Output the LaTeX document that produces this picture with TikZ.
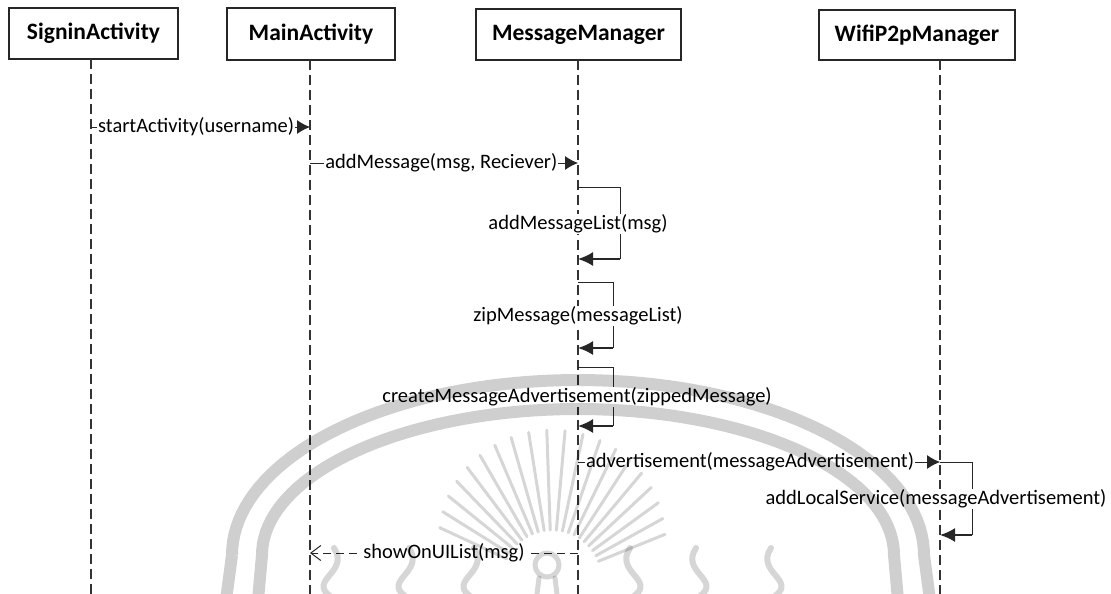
\documentclass[tikz,border=0pt]{standalone}
\usepackage{fontspec}
\setmainfont{Carlito}
\usetikzlibrary{arrows.meta}

\begin{document}
\begin{tikzpicture}[x=1pt, y=-1pt,
  head/.style={draw=black!85, line width=1.3pt, fill=white, inner sep=0pt,
               font=\fontsize{23.5}{28}\selectfont\bfseries},
  life/.style={draw=black!80, line width=1.1pt, dash pattern=on 10pt off 5pt},
  msg/.style={draw=black!85, line width=1pt, -{Latex[length=13pt,width=14pt]}},
  loopline/.style={draw=black!85, line width=1pt},
  ret/.style={draw=black!85, line width=1.8pt, -{Latex[length=15pt,width=14pt]}},
  reply/.style={draw=black!85, line width=1pt, dash pattern=on 8pt off 5pt,
                -{Straight Barb[length=10pt,width=15pt]}},
  lbl/.style={fill=white, inner sep=1pt, text=black,
              font=\fontsize{20.5}{24}\selectfont},
  wmband/.style={draw=black, opacity=0.19, line width=12pt},
  wmthin/.style={draw=black, opacity=0.16, line width=3pt, line cap=round}
]
\useasboundingbox (0,0) rectangle (1111,594);
\fill[white] (0,0) rectangle (1111,594);

% participants
\node[head, minimum width=169pt, minimum height=51pt] (sa) at (93.5,33.5) {SigninActivity};
\node[head, minimum width=168pt, minimum height=52pt] (ma) at (311,34) {MainActivity};
\node[head, minimum width=205pt, minimum height=51pt] (mm) at (578.5,34.5) {MessageManager};
\node[head, minimum width=196pt, minimum height=50pt] (wm) at (917,35) {WifiP2pManager};

% lifelines
\coordinate (sa-t) at (91,59);   \coordinate (sa-b) at (91,594);
\coordinate (ma-t) at (310,60);  \coordinate (ma-b) at (310,594);
\coordinate (mm-t) at (578,60);  \coordinate (mm-b) at (578,594);
\coordinate (wm-t) at (940,60);  \coordinate (wm-b) at (940,594);
\draw[life] (sa-t) -- (sa-b);
\draw[life] (ma-t) -- (ma-b);
\draw[life] (mm-t) -- (mm-b);
\draw[life] (wm-t) -- (wm-b);

% startActivity
\coordinate (m1a) at (91,127);  \coordinate (m1b) at (310,127);
\draw[msg] (m1a) -- node[lbl, pos=0.48] (t1) {startActivity(username)} (m1b);

% addMessage
\coordinate (m2a) at (310,163); \coordinate (m2b) at (578,163);
\draw[msg] (m2a) -- node[lbl, pos=0.49] (t2) {addMessage(msg, Reciever)} (m2b);

% addMessageList (self call)
\coordinate (l1a) at (578,187); \coordinate (l1r) at (620,187);
\coordinate (l1s) at (620,259); \coordinate (l1b) at (578,259);
\draw[loopline] (l1a) -- (l1r) -- (l1s);
\draw[ret] (l1s) -- (l1b);
\node[lbl] (t3) at (578,224) {addMessageList(msg)};

% zipMessage (self call)
\coordinate (l2a) at (578,282); \coordinate (l2r) at (613,282);
\coordinate (l2s) at (613,348); \coordinate (l2b) at (578,348);
\draw[loopline] (l2a) -- (l2r) -- (l2s);
\draw[ret] (l2s) -- (l2b);
\node[lbl] (t4) at (578,316) {zipMessage(messageList)};

% createMessageAdvertisement (self call)
\coordinate (l3a) at (578,367); \coordinate (l3r) at (613,367);
\coordinate (l3s) at (613,426); \coordinate (l3b) at (578,426);
\draw[loopline] (l3a) -- (l3r) -- (l3s);
\draw[ret] (l3s) -- (l3b);
\node[lbl] (t5) at (577,397) {createMessageAdvertisement(zippedMessage)};

% advertisement
\coordinate (m6a) at (578,462); \coordinate (m6b) at (940,462);
\draw[msg] (m6a) -- node[lbl, pos=0.475] (t6) {advertisement(messageAdvertisement)} (m6b);

% addLocalService (self call)
\coordinate (l4r) at (972,462);
\coordinate (l4s) at (972,535); \coordinate (l4b) at (940,535);
\draw[loopline] (m6b) -- (l4r) -- (l4s);
\draw[ret] (l4s) -- (l4b);
\node[lbl] (t7) at (936,499) {addLocalService(messageAdvertisement)};

% showOnUIList (reply)
\coordinate (m8a) at (578,553); \coordinate (m8b) at (310,553);
\draw[reply] (m8a) -- node[lbl] (t8) {showOnUIList(msg)} (m8b);

% faint seal printed over the page
\draw[wmband] (226,600) -- (232,555)
  plot[domain=180:360, samples=80] ({578+346*cos(\x)}, {555+175*sin(\x)})
  -- (930,600);
\draw[wmband] (258,600) -- (262,555)
  plot[domain=180:360, samples=80] ({578+316*cos(\x)}, {555+146*sin(\x)})
  -- (898,600);
\foreach \a in {22,29,...,158} {
  \draw[wmthin] ({552+50*cos(\a)},{580-50*sin(\a)}) --
                ({552+(105+45*sin(\a))*cos(\a)},{580-(105+45*sin(\a))*sin(\a)});
}
\draw[wmthin, line width=5pt] (547,565) circle[radius=12];
\draw[wmthin, line width=5pt] (537,594) -- (539,578);
\draw[wmthin, line width=5pt] (557,594) -- (555,578);
\foreach \s/\d in {470/1, 405/1, 330/1, 634/-1, 700/-1, 775/-1} {
  \draw[wmthin, line width=6pt] (\s,596) .. controls ({\s-\d*22},580) and ({\s+\d*20},572) .. ({\s+\d*4},548);
}
\end{tikzpicture}
\end{document}
